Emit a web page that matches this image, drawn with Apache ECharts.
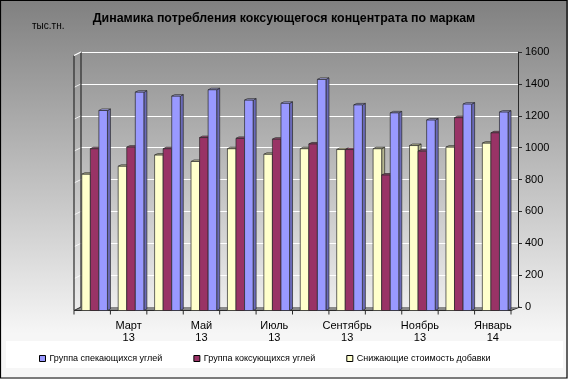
<!DOCTYPE html>
<html>
<head>
<meta charset="utf-8">
<script src="https://cdn.jsdelivr.net/npm/echarts@6/dist/echarts.min.js"></script>
<style>
html,body{margin:0;padding:0;background:#fff;}
#c{width:568px;height:379px;}
</style>
</head>
<body>
<div id="c"></div>
<script>
// ---- data ----
const categories = ['Февраль\n13','Март\n13','Апрель\n13','Май\n13','Июнь\n13','Июль\n13','Август\n13','Сентябрь\n13','Октябрь\n13','Ноябрь\n13','Декабрь\n13','Январь\n14'];
const seriesNames = ['Группа спекающихся углей','Группа коксующихся углей','Снижающие стоимость добавки'];
const sinteringCoal = [1255, 1370, 1345, 1385, 1320, 1300, 1450, 1290, 1240, 1195, 1295, 1245];
const cokingCoal    = [1015, 1025, 1015, 1085, 1080, 1075, 1045, 1010,  850, 1000, 1210, 1115];
const additives     = [ 855,  905,  975,  935, 1015,  980, 1015, 1010, 1015, 1035, 1025, 1050];
const yMin = 0, yMax = 1600, yStep = 200;
const titleText = 'Динамика потребления коксующегося концентрата по маркам';
const unitText = 'тыс.тн.';

// ---- styling ----
const FONT = 'Liberation Sans, Arial, sans-serif';
const DEPTH = [-7, 3.5];       // back wall -> front plane offset
const BAR_DEPTH = [3, -1.5];
const palette = [
  {face:'#FFFFCC', top:'#c9c9a0', side:'#b5b58f'},  // additives
  {face:'#993366', top:'#b0557f', side:'#6e2449'},  // coking
  {face:'#9999FF', top:'#b8b8ff', side:'#6a6ab8'}   // sintering
];

function barRender(slot){
  return function(params, api){
    const cat = api.value(0), val = api.value(1);
    const top = api.coord([cat, val]);
    const base = api.coord([cat, 0]);
    const band = api.size([1, 0])[0];
    const w = band * 0.235;
    const fc = top[0] + DEPTH[0];
    const x0 = fc - 1.5 * w + 2.4 + slot * w;
    const x1 = x0 + w;
    const yT = top[1] + DEPTH[1];
    const yB = base[1] + DEPTH[1];
    const c = palette[slot];
    const st = {stroke:'#2a2a2a', lineWidth:0.7};
    return {type:'group', children:[
      {type:'polygon', shape:{points:[[x1,yT],[x1+BAR_DEPTH[0],yT+BAR_DEPTH[1]],[x1+BAR_DEPTH[0],yB+BAR_DEPTH[1]],[x1,yB]]}, style:Object.assign({fill:c.side}, st)},
      {type:'polygon', shape:{points:[[x0,yT],[x1,yT],[x1+BAR_DEPTH[0],yT+BAR_DEPTH[1]],[x0+BAR_DEPTH[0],yT+BAR_DEPTH[1]]]}, style:Object.assign({fill:c.top}, st)},
      {type:'rect', shape:{x:x0, y:yT, width:w, height:yB-yT}, style:Object.assign({fill:c.face}, st)}
    ]};
  };
}

function frameRender(params, api){
  const band = api.size([1, 0])[0];
  const n = categories.length;
  const b0 = api.coord([0, yMin]);
  const bN = api.coord([n - 1, yMin]);
  const bT = api.coord([0, yMax]);
  const xl = b0[0] - band / 2, xr = bN[0] + band / 2;
  const yb = b0[1], yt = bT[1];
  const dx = DEPTH[0], dy = DEPTH[1];
  const line = '#2a2a2a';
  const ch = [];
  // floor
  ch.push({type:'polygon', shape:{points:[[xl,yb],[xr,yb],[xr+dx,yb+dy],[xl+dx,yb+dy]]}, style:{fill:'#8a8a8a', stroke:null}});
  ch.push({type:'line', shape:{x1:xl+dx,y1:yb+dy,x2:xr+dx,y2:yb+dy}, style:{stroke:line, lineWidth:1}});
  ch.push({type:'line', shape:{x1:xr+dx,y1:yb+dy,x2:xr+2,y2:yb}, style:{stroke:line, lineWidth:1}});
  // left wall gridline diagonals
  for (let v = yMin + yStep; v <= yMax; v += yStep){
    const p = api.coord([0, v]);
    ch.push({type:'line', shape:{x1:xl,y1:p[1],x2:xl+dx,y2:p[1]+dy}, style:{stroke:'#ffffff', lineWidth:1, opacity:0.8}});
  }
  // left wall edges
  ch.push({type:'line', shape:{x1:xl,y1:yt,x2:xl,y2:yb}, style:{stroke:line, lineWidth:1.2}});
  ch.push({type:'line', shape:{x1:xl+dx,y1:yt+dy,x2:xl+dx,y2:yb+dy}, style:{stroke:line, lineWidth:1.2}});
  ch.push({type:'line', shape:{x1:xl,y1:yt,x2:xl+dx,y2:yt+dy}, style:{stroke:'#ffffff', lineWidth:1}});
  ch.push({type:'line', shape:{x1:xl,y1:yb,x2:xl+dx,y2:yb+dy}, style:{stroke:line, lineWidth:1}});
  // front category ticks
  for (let i = 0; i <= n; i++){
    const x = xl + i * band + dx;
    ch.push({type:'line', shape:{x1:x,y1:yb+dy,x2:x,y2:yb+dy+4}, style:{stroke:line, lineWidth:1}});
  }
  return {type:'group', children:ch};
}

const chart = echarts.init(document.getElementById('c'), null, {renderer:'canvas'});
const valueSets = [additives, cokingCoal, sinteringCoal];
const nameSets = [seriesNames[2], seriesNames[1], seriesNames[0]];

const series = [{
  type:'custom', name:'frame', silent:true, renderItem:frameRender,
  data:[[0, 0]], z:1, clip:false
}];
valueSets.forEach((vals, s) => {
  series.push({
    type:'custom', name:nameSets[s], renderItem:barRender(s), clip:false, z:2 + s,
    itemStyle:{color:palette[s].face},
    encode:{x:0, y:1},
    data:vals.map((v, i) => [i, v])
  });
});

chart.setOption({
  animation:false,
  backgroundColor:{type:'linear', x:0, y:0, x2:0, y2:1, colorStops:[
    {offset:0, color:'#808080'}, {offset:0.88, color:'#f6f6f6'}, {offset:1, color:'#f6f6f6'}]},
  textStyle:{fontFamily:FONT},
  title:[
    {text:titleText, left:'center', top:13, padding:0,
     textStyle:{fontFamily:FONT, fontSize:12.4, fontWeight:'bold', color:'#000'}},
    {text:unitText, left:32, top:21, padding:0,
     textStyle:{fontFamily:FONT, fontSize:10, fontWeight:'normal', color:'#000'}}
  ],
  grid:{left:81, right:50, top:52, bottom:72, containLabel:false},
  xAxis:{
    type:'category', data:categories, boundaryGap:true,
    axisLine:{show:false}, axisTick:{show:false}, splitLine:{show:false},
    axisLabel:{
      interval:function(i){ return i % 2 === 1; },
      margin:13, fontSize:11, lineHeight:12, color:'#000', fontFamily:FONT,
      padding:[0, 14, 0, 0]
    }
  },
  yAxis:{
    type:'value', position:'right', min:yMin, max:yMax, interval:yStep,
    axisLine:{show:true, lineStyle:{color:'#2a2a2a', width:1}},
    axisTick:{show:true, length:4, lineStyle:{color:'#2a2a2a'}},
    axisLabel:{margin:7, fontSize:11, color:'#000', fontFamily:FONT,
      formatter:function(v){ return String(v); }},
    splitLine:{show:true, lineStyle:{color:'#ffffff', width:1}}
  },
  legend:{
    data:[seriesNames[0], seriesNames[1], seriesNames[2]],
    left:39, top:354, padding:0, itemGap:31, itemWidth:6, itemHeight:6, icon:'rect',
    itemStyle:{borderColor:'#000', borderWidth:1},
    textStyle:{fontFamily:FONT, fontSize:9, color:'#000', padding:[0,0,0,-1]},
    selectedMode:false
  },
  graphic:[
    {type:'rect', shape:{x:6, y:341, width:557, height:27}, style:{fill:'#ffffff'}, z:-1, silent:true},
    {type:'rect', shape:{x:0.5, y:0.5, width:566.5, height:377.5}, style:{fill:null, stroke:'#000', lineWidth:1.2}, z:100, silent:true}
  ],
  series:series
});
</script>
</body>
</html>
